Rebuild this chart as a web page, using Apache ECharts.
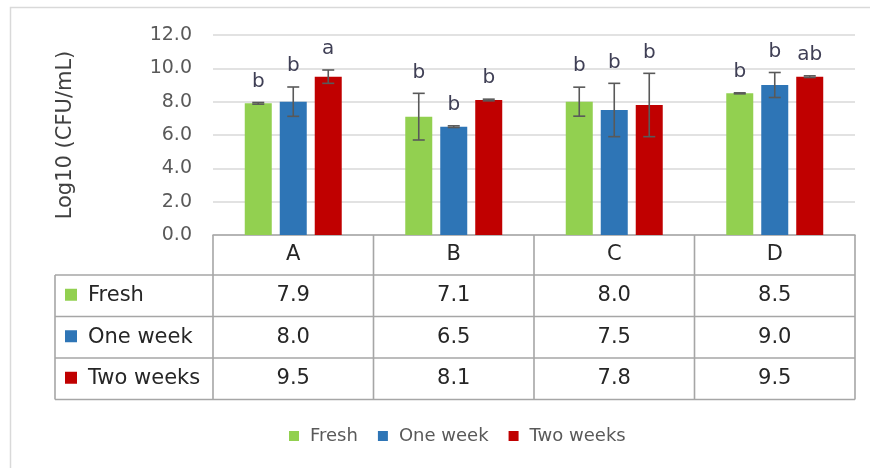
<!DOCTYPE html>
<html>
<head>
<meta charset="utf-8">
<script src="https://cdn.jsdelivr.net/npm/echarts@6/dist/echarts.min.js"></script>
<style>
  html, body { margin: 0; padding: 0; background: #fff; }
  #chart { width: 870px; height: 468px; }
</style>
</head>
<body>
<div id="chart"></div>
<script>
// Samples and storage times
const categories = ['A', 'B', 'C', 'D'];
const seriesNames = ['Fresh', 'One week', 'Two weeks'];

// Mean counts, Log10 (CFU/mL)
const fresh = [7.9, 7.1, 8.0, 8.5];
const oneWeek = [8.0, 6.5, 7.5, 9.0];
const twoWeeks = [9.5, 8.1, 7.8, 9.5];

// Standard deviations
const freshSd = [0.05, 1.4, 0.87, 0.03];
const oneWeekSd = [0.88, 0.05, 1.6, 0.75];
const twoWeeksSd = [0.4, 0.05, 1.9, 0.05];

// Significance letters
const freshSig = ['b', 'b', 'b', 'b'];
const oneWeekSig = ['b', 'b', 'b', 'b'];
const twoWeeksSig = ['a', 'b', 'b', 'ab'];

const yTicks = [0, 2, 4, 6, 8, 10, 12];

const colors = ['#92d050', '#2e75b6', '#c00000'];
const FONT = 'DejaVu Sans';
const BAR_W = 27;
const BAR_STEP = 35;

const values = [fresh, oneWeek, twoWeeks];
const sds = [freshSd, oneWeekSd, twoWeeksSd];
const sigs = [freshSig, oneWeekSig, twoWeeksSig];

const chart = echarts.init(document.getElementById('chart'), null, { renderer: 'canvas' });

const barSeries = seriesNames.map((name, s) => ({
  name: name,
  type: 'bar',
  data: values[s],
  barWidth: BAR_W,
  barGap: ((BAR_STEP - BAR_W) / BAR_W * 100).toFixed(1) + '%',
  itemStyle: { color: colors[s] },
  z: 2
}));

// Error bars with caps and the letter above each
const errSeries = seriesNames.map((name, s) => ({
  type: 'custom',
  name: name + ' sd',
  data: values[s].map((v, i) => [i, v, sds[s][i]]),
  z: 5,
  silent: true,
  renderItem: function (params, api) {
    const i = api.value(0);
    const v = api.value(1);
    const sd = api.value(2);
    const letter = sigs[s][i];
    const dx = (s - 1) * BAR_STEP;
    const top = api.coord([i, v + sd]);
    const bot = api.coord([i, v - sd]);
    const x = top[0] + dx;
    const cap = 6;
    const st = { stroke: '#595959', lineWidth: 1.6 };
    return {
      type: 'group',
      children: [
        { type: 'line', shape: { x1: x, y1: top[1], x2: x, y2: bot[1] }, style: st },
        { type: 'line', shape: { x1: x - cap, y1: top[1], x2: x + cap, y2: top[1] }, style: st },
        { type: 'line', shape: { x1: x - cap, y1: bot[1], x2: x + cap, y2: bot[1] }, style: st },
        {
          type: 'text',
          style: {
            x: x, y: top[1] - 11, text: letter,
            fill: '#3f3f55', font: '20px "DejaVu Sans"',
            textAlign: 'center', textVerticalAlign: 'bottom'
          }
        }
      ]
    };
  }
}));

const option = {
  animation: false,
  backgroundColor: '#ffffff',
  textStyle: { fontFamily: FONT },
  grid: { left: 213, right: 15, top: 35, bottom: 233, containLabel: false },
  legend: {
    data: seriesNames,
    bottom: 18,
    left: 284,
    icon: 'rect',
    itemWidth: 10,
    itemHeight: 10,
    itemGap: 20,
    textStyle: { color: '#595959', fontSize: 18, fontFamily: FONT, padding: [0, 0, 0, 6] }
  },
  xAxis: {
    type: 'category',
    data: categories,
    axisLine: { show: true, lineStyle: { color: '#a6a6a6', width: 1.5 } },
    axisTick: { show: false },
    axisLabel: { show: false }
  },
  yAxis: {
    type: 'value',
    min: yTicks[0],
    max: yTicks[yTicks.length - 1],
    interval: 2,
    name: 'Log10 (CFU/mL)',
    nameLocation: 'middle',
    nameGap: 137,
    nameRotate: 90,
    nameTextStyle: { color: '#404040', fontSize: 21, fontFamily: FONT },
    axisLine: { show: false },
    axisTick: { show: false },
    axisLabel: {
      formatter: v => v.toFixed(1),
      color: '#595959', fontSize: 19, fontFamily: FONT, margin: 21
    },
    splitLine: { lineStyle: { color: '#d9d9d9', width: 1.5 } }
  },
  series: barSeries.concat(errSeries)
};

chart.setOption(option);

// Data table under the plot, aligned to the category bands
function drawTable() {
  const lineColor = '#a6a6a6';
  const lw = 1.6;
  const x0 = chart.convertToPixel({ xAxisIndex: 0 }, 0);
  const x1 = chart.convertToPixel({ xAxisIndex: 0 }, 1);
  const band = x1 - x0;
  const left = x0 - band / 2;
  const right = left + band * categories.length;
  const headTop = chart.convertToPixel({ yAxisIndex: 0 }, 0);
  const rowH = 41.5;
  const labelLeft = 55;
  const rowsTop = headTop + 40;
  const bottom = rowsTop + rowH * seriesNames.length;
  const els = [];
  const line = (xa, ya, xb, yb) => els.push({
    type: 'line', shape: { x1: xa, y1: ya, x2: xb, y2: yb },
    style: { stroke: lineColor, lineWidth: lw }
  });
  // header frame
  line(left, headTop, left, bottom);
  line(right, headTop, right, bottom);
  for (let c = 1; c < categories.length; c++) {
    line(left + band * c, headTop, left + band * c, bottom);
  }
  // rows
  line(labelLeft, rowsTop, right, rowsTop);
  for (let r = 1; r <= seriesNames.length; r++) {
    line(labelLeft, rowsTop + rowH * r, right, rowsTop + rowH * r);
  }
  line(labelLeft, rowsTop, labelLeft, bottom);
  const txt = (x, y, t, align) => els.push({
    type: 'text',
    style: {
      x: x, y: y, text: t, fill: '#262626', font: '21px "DejaVu Sans"',
      textAlign: align || 'center', textVerticalAlign: 'middle'
    }
  });
  categories.forEach((c, i) => txt(left + band * (i + 0.5), (headTop + rowsTop) / 2, c));
  seriesNames.forEach((name, s) => {
    const cy = rowsTop + rowH * (s + 0.5);
    els.push({
      type: 'rect', shape: { x: 65, y: cy - 7, width: 12, height: 12 },
      style: { fill: colors[s] }
    });
    txt(88, cy, name, 'left');
    values[s].forEach((v, i) => txt(left + band * (i + 0.5), cy, v.toFixed(1)));
  });
  // outer frame of the figure
  els.push({
    type: 'rect', shape: { x: 10.5, y: 7.5, width: 900, height: 500 },
    style: { fill: 'none', stroke: '#d9d9d9', lineWidth: 1.5 }, z: -1
  });
  chart.setOption({ graphic: els });
}
drawTable();
</script>
</body>
</html>
